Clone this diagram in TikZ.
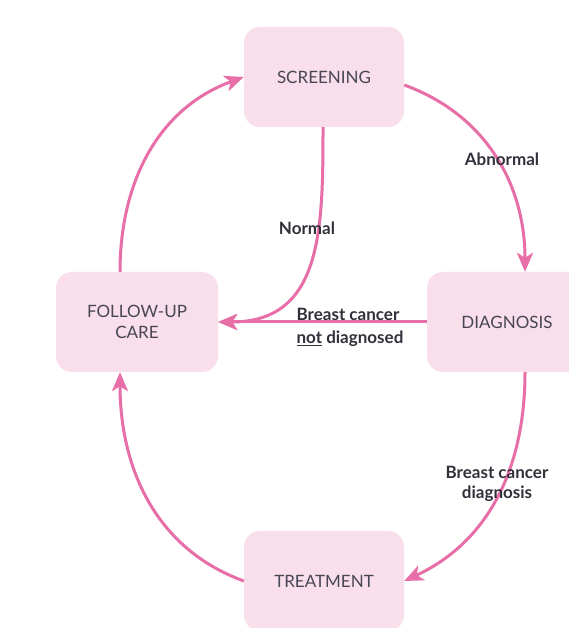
\documentclass[tikz,border=0pt]{standalone}
\usepackage{fontspec}
\setmainfont{Lato}
\usetikzlibrary{arrows.meta, positioning}
\definecolor{boxpink}{RGB}{249,222,235}
\definecolor{arrpink}{RGB}{232,110,168}
\definecolor{txtgray}{RGB}{72,70,84}

\begin{document}
\begin{tikzpicture}[
    x=1pt, y=1pt,
    block/.style={rectangle, rounded corners=16pt, fill=boxpink, minimum width=160pt, minimum height=100pt, align=center, text=txtgray, font=\fontsize{17}{21}\selectfont},
    lbl/.style={align=center, text=txtgray!70!black, font=\bfseries\fontsize{17}{20}\selectfont},
    arr/.style={-{Stealth[length=19pt,width=16pt,inset=5pt]}, line width=3pt, draw=arrpink}
]
\fill[white] (0,0) rectangle (569,628);
\useasboundingbox (0,0) rectangle (569,628);
\node[block] (scr) at (324,551) {SCREENING};
\node[block, minimum width=162pt] (fup) at (137,306) {FOLLOW-UP\\CARE};
\node[block] (dia) at (507,306) {DIAGNOSIS};
\node[block] (trt) at (324,47) {TREATMENT};
\draw[arr] ([xshift=-17pt]fup.north) to[out=90, in=200] (scr.west);
\draw[arr] ([yshift=-8pt]scr.east) to[out=-20, in=90] ([xshift=18pt]dia.north);
\draw[arr] ([xshift=-1pt]scr.south) to[out=-90, in=0, looseness=1.2] (fup.east);
\draw[arr] (dia.west) -- (fup.east);
\draw[arr] ([xshift=18pt]dia.south) to[out=-90, in=25] (trt.east);
\draw[arr] (trt.west) to[out=160, in=-90] ([xshift=-17pt]fup.south);
% edge labels
\node[lbl] (abn) at (502,469) {Abnormal};
\node[lbl] (nrm) at (307,400) {Normal};
\node[lbl] (bc1) at (348,314) {Breast cancer};
\node[lbl] (bc2) at (350,289) {\underline{not} diagnosed};
\node[lbl] (bcd) at (497,144) {Breast cancer\\diagnosis};
\end{tikzpicture}
\end{document}
